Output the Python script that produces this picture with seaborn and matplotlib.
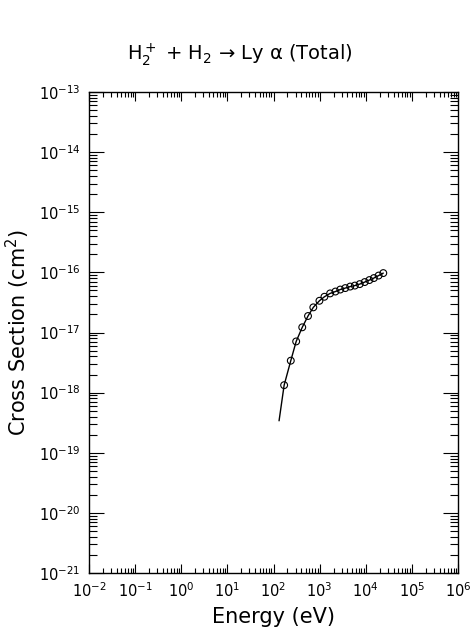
import numpy as np
import pandas as pd
import matplotlib
matplotlib.use("Agg")
import matplotlib.pyplot as plt
import seaborn as sns
from matplotlib.ticker import LogLocator, NullFormatter

# Data
energy = [170, 237, 310, 420, 560, 730, 990, 1270, 1690, 2200, 2800, 3600,
          4600, 5800, 7400, 9500, 12000, 15000, 19000, 24000]
sigma = [1.33e-18, 3.4e-18, 7.1e-18, 1.22e-17, 1.88e-17, 2.62e-17, 3.37e-17,
         3.93e-17, 4.47e-17, 4.80e-17, 5.18e-17, 5.48e-17, 5.81e-17, 6.03e-17,
         6.38e-17, 6.9e-17, 7.45e-17, 8.04e-17, 8.85e-17, 9.73e-17]
fit_energy = [132, 170, 237, 310, 420, 560, 730, 990, 1270, 1690, 2200, 2800,
              3600, 4600, 5800, 7400, 9500, 12000, 15000, 19000, 24000]
fit_sigma = [3.4e-19, 1.33e-18, 3.4e-18, 7.1e-18, 1.22e-17, 1.88e-17, 2.62e-17,
             3.37e-17, 3.93e-17, 4.47e-17, 4.80e-17, 5.18e-17, 5.48e-17, 5.81e-17,
             6.03e-17, 6.38e-17, 6.9e-17, 7.45e-17, 8.04e-17, 8.85e-17, 9.73e-17]

x_ticks = [1e-2, 1e-1, 1e0, 1e1, 1e2, 1e3, 1e4, 1e5, 1e6]
x_ticklabels = [r"$10^{-2}$", r"$10^{-1}$", r"$10^{0}$", r"$10^{1}$", r"$10^{2}$",
                r"$10^{3}$", r"$10^{4}$", r"$10^{5}$", r"$10^{6}$"]
y_ticks = [1e-21, 1e-20, 1e-19, 1e-18, 1e-17, 1e-16, 1e-15, 1e-14, 1e-13]
y_ticklabels = [r"$10^{-21}$", r"$10^{-20}$", r"$10^{-19}$", r"$10^{-18}$",
                r"$10^{-17}$", r"$10^{-16}$", r"$10^{-15}$", r"$10^{-14}$",
                r"$10^{-13}$"]

sns.set_style("ticks")
plt.rcParams["font.family"] = ["DejaVu Sans"]
plt.rcParams["mathtext.fontset"] = "dejavusans"
plt.rcParams["mathtext.default"] = "regular"
plt.rcParams["text.color"] = "black"
plt.rcParams["axes.labelcolor"] = "black"
plt.rcParams["xtick.color"] = "black"
plt.rcParams["ytick.color"] = "black"

fig = plt.figure(figsize=(4.70, 6.34), dpi=100)
ax = fig.add_axes([89 / 470, 1 - 573 / 634, (458 - 89) / 470, (573 - 92) / 634])

df_fit = pd.DataFrame({"E": fit_energy, "S": fit_sigma})
df = pd.DataFrame({"E": energy, "S": sigma})
sns.lineplot(data=df_fit, x="E", y="S", ax=ax, color="black", lw=1.0,
             estimator=None, sort=False)
sns.scatterplot(data=df, x="E", y="S", ax=ax, marker="o", s=24,
                facecolor="none", edgecolor="black", linewidth=0.8, zorder=3)

ax.set_xscale("log")
ax.set_yscale("log")
ax.set_xlim(1e-2, 1e6)
ax.set_ylim(1e-21, 1e-13)
ax.set_xticks(x_ticks)
ax.set_xticklabels(x_ticklabels)
ax.set_yticks(y_ticks)
ax.set_yticklabels(y_ticklabels)
ax.xaxis.set_minor_locator(LogLocator(base=10, subs=np.arange(2, 10), numticks=100))
ax.yaxis.set_minor_locator(LogLocator(base=10, subs=np.arange(2, 10), numticks=100))
ax.xaxis.set_minor_formatter(NullFormatter())
ax.yaxis.set_minor_formatter(NullFormatter())
ax.tick_params(which="both", direction="in", top=True, right=True,
               color="black", width=0.8, labelcolor="black")
ax.tick_params(axis="x", which="major", length=6.5, labelsize=10.5, pad=6)
ax.tick_params(axis="x", which="minor", length=3.6)
ax.tick_params(axis="y", which="major", length=10.5, labelsize=10.5, pad=6)
ax.tick_params(axis="y", which="minor", length=5.8)
for s in ax.spines.values():
    s.set_visible(True)
    s.set_color("black")
    s.set_linewidth(1.0)

ax.set_xlabel("Energy (eV)", fontsize=15, labelpad=5, color="black")
ax.set_ylabel(r"Cross Section (cm$^2$)", fontsize=15, labelpad=5, color="black")
fig.text(0.5 + 0.01, 1 - 55 / 634, r"H$_2^+$ + H$_2$ → Ly α (Total)",
         ha="center", va="center", fontsize=14, color="black")

fig.savefig("out.png", dpi=100, facecolor="white")
